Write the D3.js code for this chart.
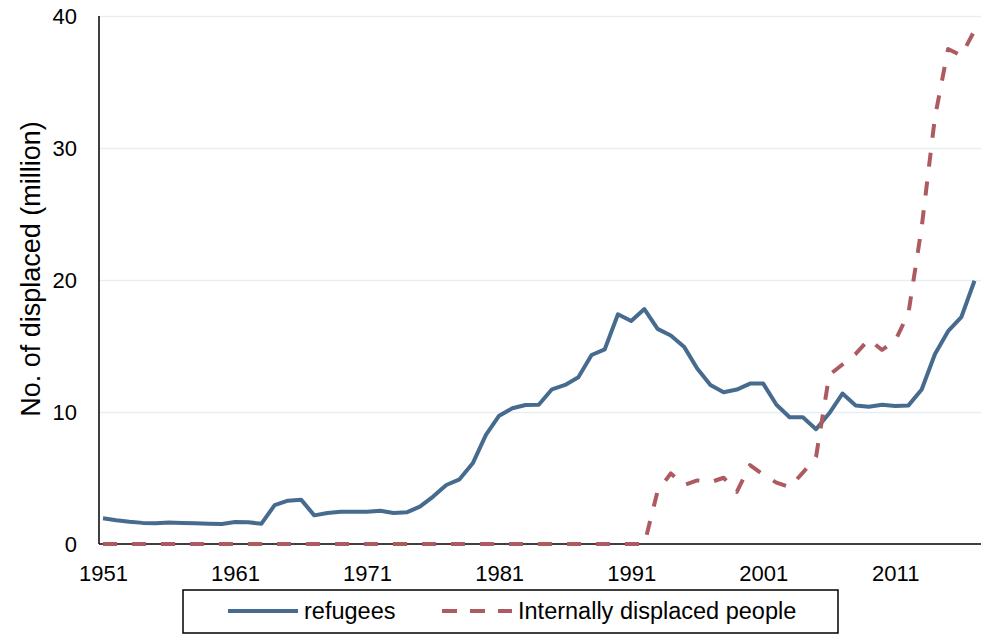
<!DOCTYPE html>
<html>
<head>
<meta charset="utf-8">
<script src="https://cdn.jsdelivr.net/npm/d3@7"></script>
<style>
  html, body { margin: 0; padding: 0; background: #fff; }
  svg { display: block; font-family: "Liberation Sans", Arial, sans-serif; }
</style>
</head>
<body>
<svg id="chart" width="986" height="634"></svg>
<script>
const years = [1951,1952,1953,1954,1955,1956,1957,1958,1959,1960,
  1961,1962,1963,1964,1965,1966,1967,1968,1969,1970,
  1971,1972,1973,1974,1975,1976,1977,1978,1979,1980,
  1981,1982,1983,1984,1985,1986,1987,1988,1989,1990,
  1991,1992,1993,1994,1995,1996,1997,1998,1999,2000,
  2001,2002,2003,2004,2005,2006,2007,2008,2009,2010,
  2011,2012,2013,2014,2015,2016,2017];

const refugees = [1.95,1.80,1.68,1.60,1.57,1.62,1.60,1.57,1.54,1.52,
  1.67,1.64,1.54,2.95,3.28,3.36,2.17,2.35,2.45,2.45,
  2.45,2.52,2.35,2.40,2.83,3.59,4.47,4.90,6.11,8.26,
  9.72,10.28,10.53,10.55,11.72,12.05,12.63,14.32,14.75,17.40,
  16.89,17.80,16.30,15.80,14.95,13.30,12.05,11.50,11.70,12.15,
  12.15,10.55,9.60,9.60,8.70,9.90,11.40,10.50,10.40,10.55,
  10.45,10.50,11.70,14.38,16.12,17.18,19.94];

const idps = [0,0,0,0,0,0,0,0,0,0,
  0,0,0,0,0,0,0,0,0,0,
  0,0,0,0,0,0,0,0,0,0,
  0,0,0,0,0,0,0,0,0,0,
  0,0,4.0,5.35,4.45,4.82,4.68,5.02,3.95,5.97,
  5.25,4.65,4.30,5.40,6.60,12.80,13.60,14.40,15.50,14.70,
  15.40,17.50,24.00,32.30,37.50,37.00,38.90];

const xTickYears = [1951,1961,1971,1981,1991,2001,2011];
const yTicks = [0,10,20,30,40];
const seriesNames = ["refugees", "Internally displaced people"];
const yTitle = "No. of displaced (million)";

const svg = d3.select("#chart");
const plotLeft = 99, plotRight = 981, plotTop = 16, plotBottom = 544;

const x = d3.scaleLinear().domain([1951, 2017]).range([103, 974.5]);
const y = d3.scaleLinear().domain([0, 40]).range([plotBottom, plotTop]);

// gridlines
const yAxisGrid = d3.axisLeft(y).tickValues(yTicks.filter(v => v > 0))
  .tickSize(-(plotRight - plotLeft)).tickFormat("");
svg.append("g").attr("transform", `translate(${plotLeft},0)`).call(yAxisGrid)
  .call(g => g.select(".domain").remove())
  .call(g => g.selectAll("line").attr("stroke", "#e6edf3").attr("stroke-width", 1.5));

// y tick labels
const yAxis = d3.axisLeft(y).tickValues(yTicks).tickSize(0).tickPadding(22);
svg.append("g").attr("transform", `translate(${plotLeft},0)`).call(yAxis)
  .call(g => g.select(".domain").remove())
  .call(g => g.selectAll("text").attr("font-size", 22).attr("fill", "#000")
    .attr("font-family", "Liberation Sans, Arial, sans-serif"));

// x tick labels
const xAxis = d3.axisBottom(x).tickValues(xTickYears).tickFormat(d3.format("d")).tickSize(0).tickPadding(21);
svg.append("g").attr("transform", `translate(0,${plotBottom})`).call(xAxis)
  .call(g => g.select(".domain").remove())
  .call(g => g.selectAll("text").attr("font-size", 22).attr("fill", "#000")
    .attr("font-family", "Liberation Sans, Arial, sans-serif"));

// axis lines
svg.append("line").attr("x1", plotLeft).attr("x2", plotLeft).attr("y1", plotTop).attr("y2", plotBottom)
  .attr("stroke", "#000").attr("stroke-width", 1.5);
svg.append("line").attr("x1", plotLeft).attr("x2", plotRight).attr("y1", plotBottom).attr("y2", plotBottom)
  .attr("stroke", "#000").attr("stroke-width", 1.5);

// lines
const blue = "#466b8e", red = "#ad5b61";
const line = d3.line().x((d, i) => x(years[i])).y(d => y(d));
svg.append("path").datum(refugees).attr("d", line)
  .attr("fill", "none").attr("stroke", blue).attr("stroke-width", 4).attr("stroke-linejoin", "round");
svg.append("path").datum(idps).attr("d", line)
  .attr("fill", "none").attr("stroke", red).attr("stroke-width", 4)
  .attr("stroke-dasharray", "14,15").attr("stroke-linejoin", "round");

// y title
svg.append("text").attr("transform", "translate(40,269) rotate(-90)")
  .attr("text-anchor", "middle").attr("font-size", 27).attr("fill", "#000").text(yTitle);

// legend
const lg = svg.append("g");
lg.append("rect").attr("x", 183).attr("y", 590).attr("width", 655).attr("height", 43)
  .attr("fill", "#fff").attr("stroke", "#000").attr("stroke-width", 1.5);
lg.append("line").attr("x1", 228).attr("x2", 298).attr("y1", 611).attr("y2", 611)
  .attr("stroke", blue).attr("stroke-width", 4);
lg.append("text").attr("x", 304).attr("y", 619).attr("font-size", 23.5).text(seriesNames[0]);
lg.append("line").attr("x1", 442).attr("x2", 512).attr("y1", 611).attr("y2", 611)
  .attr("stroke", red).attr("stroke-width", 4).attr("stroke-dasharray", "15,13");
lg.append("text").attr("x", 518).attr("y", 619).attr("font-size", 23.5).text(seriesNames[1]);
</script>
</body>
</html>
